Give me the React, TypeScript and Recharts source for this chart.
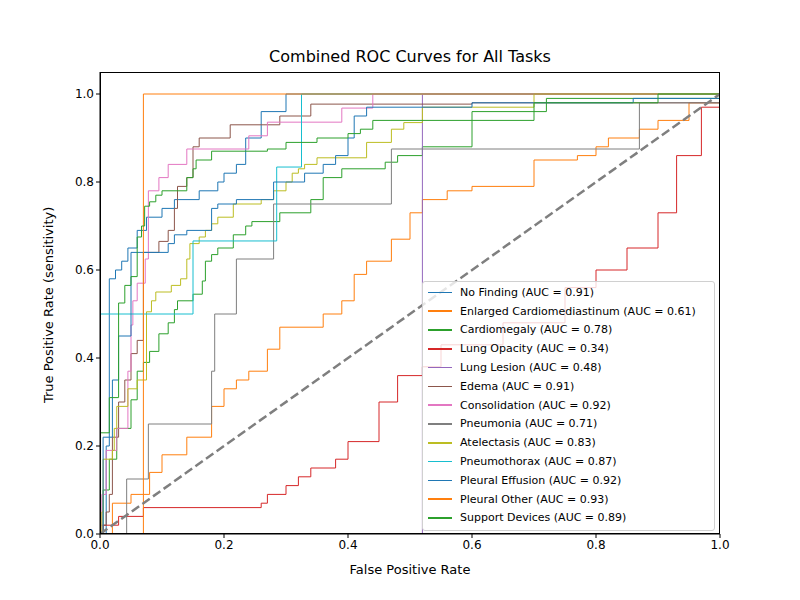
import { Line, LineChart, XAxis, YAxis } from 'recharts'

type Pt = [number, number]

const noFinding: Pt[] = [[0, 0], [0.01, 0.2], [0.015, 0.58], [0.025, 0.6], [0.035, 0.62], [0.045, 0.65], [0.06, 0.69], [0.075, 0.72], [0.1, 0.74], [0.12, 0.76], [0.16, 0.78], [0.19, 0.8], [0.2, 0.82], [0.22, 0.84], [0.235, 0.9], [0.26, 0.96], [0.3, 1], [1, 1]]
const enlargedCardio: Pt[] = [[0, 0], [0.02, 0.07], [0.05, 0.09], [0.08, 0.14], [0.1, 0.18], [0.14, 0.22], [0.18, 0.29], [0.2, 0.33], [0.22, 0.35], [0.24, 0.37], [0.27, 0.42], [0.29, 0.47], [0.36, 0.5], [0.39, 0.53], [0.41, 0.59], [0.43, 0.62], [0.47, 0.67], [0.5, 0.73], [0.52, 0.76], [0.56, 0.78], [0.6, 0.79], [0.7, 0.85], [0.77, 0.86], [0.8, 0.88], [0.82, 0.9], [0.87, 0.92], [0.9, 0.94], [0.95, 0.98], [1, 1]]
const cardiomegaly: Pt[] = [[0, 0], [0.005, 0.1], [0.015, 0.17], [0.027, 0.24], [0.05, 0.305], [0.06, 0.37], [0.07, 0.39], [0.08, 0.415], [0.095, 0.455], [0.11, 0.48], [0.12, 0.51], [0.125, 0.53], [0.15, 0.545], [0.165, 0.575], [0.17, 0.62], [0.18, 0.635], [0.19, 0.65], [0.215, 0.68], [0.235, 0.7], [0.245, 0.71], [0.29, 0.73], [0.34, 0.76], [0.36, 0.81], [0.39, 0.83], [0.46, 0.845], [0.48, 0.86], [0.52, 0.88], [0.6, 0.96], [0.72, 0.99], [1, 1]]
const lungOpacity: Pt[] = [[0, 0], [0.005, 0.02], [0.03, 0.04], [0.07, 0.06], [0.26, 0.07], [0.27, 0.09], [0.3, 0.11], [0.32, 0.13], [0.34, 0.15], [0.38, 0.17], [0.4, 0.21], [0.45, 0.3], [0.48, 0.36], [0.52, 0.38], [0.55, 0.43], [0.65, 0.48], [0.75, 0.56], [0.8, 0.6], [0.85, 0.65], [0.9, 0.73], [0.93, 0.86], [0.97, 0.97], [1, 1]]
const lungLesion: Pt[] = [[0, 0], [0.52, 1], [1, 1]]
const edema: Pt[] = [[0, 0], [0, 0.02], [0.01, 0.05], [0.015, 0.09], [0.02, 0.22], [0.03, 0.3], [0.04, 0.35], [0.05, 0.41], [0.06, 0.44], [0.07, 0.64], [0.095, 0.665], [0.11, 0.69], [0.12, 0.74], [0.125, 0.79], [0.14, 0.81], [0.15, 0.88], [0.16, 0.9], [0.21, 0.93], [0.29, 0.95], [0.34, 0.977], [0.6, 0.98], [1, 1]]
const consolidation: Pt[] = [[0, 0], [0.003, 0.09], [0.01, 0.19], [0.027, 0.24], [0.045, 0.37], [0.05, 0.475], [0.053, 0.53], [0.06, 0.57], [0.073, 0.625], [0.078, 0.78], [0.095, 0.81], [0.11, 0.84], [0.14, 0.875], [0.24, 0.905], [0.27, 0.936], [0.39, 0.968], [0.44, 1], [1, 1]]
const pneumonia: Pt[] = [[0, 0], [0.043, 0.125], [0.078, 0.25], [0.18, 0.37], [0.185, 0.5], [0.22, 0.625], [0.28, 0.75], [0.47, 0.875], [0.87, 0.98], [1, 1]]
const atelectasis: Pt[] = [[0, 0], [0.003, 0.05], [0.005, 0.17], [0.02, 0.19], [0.023, 0.24], [0.027, 0.29], [0.045, 0.33], [0.06, 0.35], [0.075, 0.505], [0.083, 0.53], [0.09, 0.55], [0.115, 0.565], [0.13, 0.58], [0.14, 0.625], [0.145, 0.66], [0.16, 0.675], [0.17, 0.69], [0.18, 0.705], [0.19, 0.72], [0.215, 0.75], [0.26, 0.76], [0.28, 0.78], [0.3, 0.8], [0.31, 0.82], [0.32, 0.83], [0.33, 0.84], [0.35, 0.855], [0.43, 0.89], [0.47, 0.92], [0.49, 0.935], [0.52, 0.97], [0.7, 1], [1, 1]]
const pneumothorax: Pt[] = [[0, 0.5], [0.15, 0.666], [0.285, 0.834], [0.325, 1], [1, 1]]
const pleuralEffusion: Pt[] = [[0, 0], [0.005, 0.22], [0.02, 0.35], [0.03, 0.45], [0.05, 0.64], [0.11, 0.66], [0.12, 0.68], [0.14, 0.69], [0.18, 0.74], [0.19, 0.75], [0.22, 0.76], [0.28, 0.8], [0.33, 0.82], [0.36, 0.84], [0.38, 0.86], [0.4, 0.9], [0.41, 0.95], [0.43, 0.97], [0.6, 0.98], [0.86, 0.99], [1, 1]]
const pleuralOther: Pt[] = [[0, 0], [0.07, 1], [1, 1]]
const supportDevices: Pt[] = [[0, 0.23], [0.015, 0.31], [0.03, 0.525], [0.04, 0.565], [0.05, 0.585], [0.06, 0.675], [0.067, 0.7], [0.072, 0.745], [0.08, 0.755], [0.09, 0.77], [0.1, 0.78], [0.14, 0.81], [0.15, 0.83], [0.155, 0.85], [0.18, 0.87], [0.27, 0.875], [0.3, 0.89], [0.35, 0.9], [0.4, 0.91], [0.42, 0.92], [0.44, 0.94], [0.7, 0.98], [0.9, 1], [1, 1]]
const diagonal: Pt[] = [[0, 0], [1, 1]]

const series = [
  { name: 'No Finding', auc: '0.91', color: '#1f77b4', pts: noFinding },
  { name: 'Enlarged Cardiomediastinum', auc: '0.61', color: '#ff7f0e', pts: enlargedCardio },
  { name: 'Cardiomegaly', auc: '0.78', color: '#2ca02c', pts: cardiomegaly },
  { name: 'Lung Opacity', auc: '0.34', color: '#d62728', pts: lungOpacity },
  { name: 'Lung Lesion', auc: '0.48', color: '#9467bd', pts: lungLesion },
  { name: 'Edema', auc: '0.91', color: '#8c564b', pts: edema },
  { name: 'Consolidation', auc: '0.92', color: '#e377c2', pts: consolidation },
  { name: 'Pneumonia', auc: '0.71', color: '#7f7f7f', pts: pneumonia },
  { name: 'Atelectasis', auc: '0.83', color: '#bcbd22', pts: atelectasis },
  { name: 'Pneumothorax', auc: '0.87', color: '#17becf', pts: pneumothorax },
  { name: 'Pleural Effusion', auc: '0.92', color: '#1f77b4', pts: pleuralEffusion },
  { name: 'Pleural Other', auc: '0.93', color: '#ff7f0e', pts: pleuralOther },
  { name: 'Support Devices', auc: '0.89', color: '#2ca02c', pts: supportDevices }
]

const ticks = [0, 0.2, 0.4, 0.6, 0.8, 1]
const font = 'DejaVu Sans'
const toRows = (pts: Pt[]) => pts.map(([x, y]) => ({ x, y }))

const LegendBox = () => (
  <div
    style={{
      position: 'absolute',
      left: 422,
      top: 281,
      width: 280,
      border: '1px solid #d0d0d0',
      borderRadius: 3,
      background: 'rgba(255,255,255,0.8)',
      padding: '1px 6px 3px 5px',
      fontFamily: font,
      fontSize: 11
    }}
  >
    {series.map((s) => (
      <div key={s.name} style={{ display: 'flex', alignItems: 'center', height: 18.8 }}>
        <span style={{ width: 24, height: 1.5, background: s.color, marginRight: 8 }} />
        <span>{`${s.name} (AUC = ${s.auc})`}</span>
      </div>
    ))}
  </div>
)

export default function App() {
  return (
    <div style={{ position: 'absolute', left: 0, top: 0, width: 800, height: 600, background: '#fff' }}>
      <div style={{ position: 'absolute', top: 47, left: 100, width: 620, textAlign: 'center', fontFamily: font, fontSize: 16 }}>
        Combined ROC Curves for All Tasks
      </div>
      <LineChart width={800} height={600} margin={{ top: 72, right: 80, bottom: 26, left: 40 }}>
        <XAxis
          dataKey='x'
          type='number'
          domain={[0, 1]}
          ticks={ticks}
          tickFormatter={(v) => v.toFixed(1)}
          tick={{ fill: '#000', fontSize: 12, fontFamily: font }}
          stroke='#000'
          tickSize={4}
          height={40}
          label={{ value: 'False Positive Rate', position: 'insideBottom', offset: 0, fill: '#000', fontSize: 13, fontFamily: font }}
          allowDataOverflow
        />
        <YAxis
          type='number'
          domain={[0, 1.05]}
          ticks={ticks}
          tickFormatter={(v) => v.toFixed(1)}
          tick={{ fill: '#000', fontSize: 12, fontFamily: font }}
          stroke='#000'
          tickSize={4}
          width={60}
          label={{ value: 'True Positive Rate (sensitivity)', angle: -90, position: 'insideLeft', offset: 8, dy: 100, fill: '#000', fontSize: 13, fontFamily: font }}
          allowDataOverflow
        />
        {series.map((s) => (
          <Line
            key={s.name}
            data={toRows(s.pts)}
            dataKey='y'
            name={s.name}
            type='stepAfter'
            stroke={s.color}
            strokeWidth={1}
            dot={false}
            isAnimationActive={false}
          />
        ))}
        <Line
          data={toRows(diagonal)}
          dataKey='y'
          type='linear'
          stroke='#7f7f7f'
          strokeWidth={2.5}
          strokeDasharray='9 4'
          dot={false}
          isAnimationActive={false}
        />
      </LineChart>
      <div style={{ position: 'absolute', left: 100, top: 72, width: 620, height: 462, border: '1px solid #000', boxSizing: 'border-box', pointerEvents: 'none' }} />
      <LegendBox />
    </div>
  )
}
